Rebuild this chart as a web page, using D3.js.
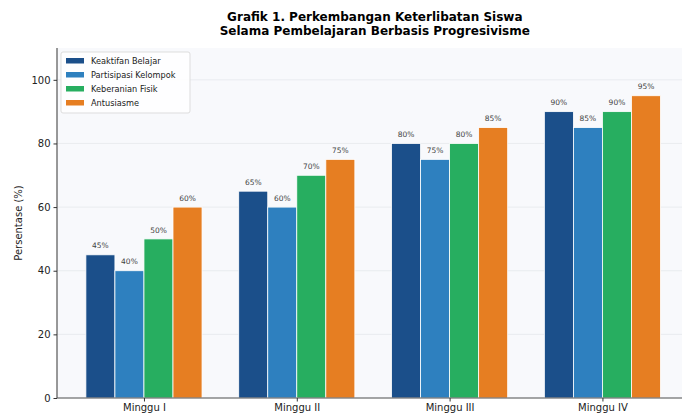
<!DOCTYPE html>
<html lang="en">
<head>
<meta charset="UTF-8">
<title>Grafik 1</title>
<script src="https://d3js.org/d3.v7.min.js"></script>
<style>
  body { margin: 0; background: #fff; }
  text { font-family: "DejaVu Sans", sans-serif; }
</style>
</head>
<body>
<script>
const weeks = ["Minggu I", "Minggu II", "Minggu III", "Minggu IV"];
const seriesNames = ["Keaktifan Belajar", "Partisipasi Kelompok", "Keberanian Fisik", "Antusiasme"];
const keaktifan = [45, 65, 80, 90];
const partisipasi = [40, 60, 75, 85];
const keberanian = [50, 70, 80, 90];
const antusiasme = [60, 75, 85, 95];
const yTicks = [0, 20, 40, 60, 80, 100];
const colors = ["#1b4f8a", "#2e80bf", "#27ae60", "#e67e22"];

const allSeries = [keaktifan, partisipasi, keberanian, antusiasme];

const width = 682, height = 415;
const margin = {left: 57, top: 48, right: -10.6, bottom: 17};
const svg = d3.select("body").append("svg").attr("width", width).attr("height", height);

// index scale: categories at 0..3, limits like matplotlib auto margins
const x = d3.scaleLinear().domain([-0.569, 3.59]).range([margin.left, width - margin.right]);
const y = d3.scaleLinear().domain([0, 110]).range([height - margin.bottom, margin.top]);
const bw = 0.19;

svg.append("rect")
  .attr("x", margin.left).attr("y", margin.top)
  .attr("width", width - margin.right - margin.left)
  .attr("height", y(0) - margin.top)
  .attr("fill", "#f8f9fc");

// grid
svg.append("g").selectAll("line").data(yTicks).enter().append("line")
  .attr("x1", margin.left).attr("x2", width)
  .attr("y1", d => y(d)).attr("y2", d => y(d))
  .attr("stroke", "#e6e8ec").attr("stroke-width", 0.8);

const g = svg.append("g");
allSeries.forEach((vals, s) => {
  const off = (s - 1.5) * bw;
  g.selectAll(".b" + s).data(vals).enter().append("rect")
    .attr("x", (d, i) => x(i + off - bw / 2))
    .attr("width", x(bw) - x(0))
    .attr("y", d => y(d))
    .attr("height", d => y(0) - y(d))
    .attr("fill", colors[s])
    .attr("stroke", "#fff").attr("stroke-width", 0.8);
  g.selectAll(".l" + s).data(vals).enter().append("text")
    .attr("x", (d, i) => x(i + off))
    .attr("y", d => y(d + 2) )
    .attr("text-anchor", "middle")
    .attr("font-size", 7.5).attr("fill", "#444")
    .text(d => d + "%");
});

// axes
const yAxis = d3.axisLeft(y).tickValues(yTicks).tickSize(3.5).tickPadding(3);
const ya = svg.append("g").attr("transform", `translate(${margin.left},0)`).call(yAxis);
ya.select(".domain").attr("d", `M0,${y(0)}V${margin.top}`).attr("stroke", "#555").attr("stroke-width", 1.2);
ya.selectAll("text").attr("font-size", 10).attr("fill", "#222");
ya.selectAll("line").attr("stroke", "#333");

const xa = svg.append("g").attr("transform", `translate(0,${y(0)})`)
  .call(d3.axisBottom(x).tickValues([0, 1, 2, 3]).tickFormat(i => weeks[i]).tickSize(3.5).tickPadding(2));
xa.select(".domain").attr("d", `M${margin.left},0H${width}`).attr("stroke", "#555").attr("stroke-width", 1.2);
xa.selectAll("text").attr("font-size", 10).attr("fill", "#222");
xa.selectAll("line").attr("stroke", "#333");

svg.append("text")
  .attr("transform", `translate(22,${(y(0) + margin.top) / 2}) rotate(-90)`)
  .attr("text-anchor", "middle").attr("font-size", 10).attr("fill", "#222")
  .text("Persentase (%)");

const titleX = (margin.left + width - margin.right) / 2;
svg.append("text").attr("x", titleX).attr("y", 21)
  .attr("text-anchor", "middle").attr("font-size", 12).attr("font-weight", "bold")
  .text("Grafik 1. Perkembangan Keterlibatan Siswa");
svg.append("text").attr("x", titleX).attr("y", 35)
  .attr("text-anchor", "middle").attr("font-size", 12).attr("font-weight", "bold")
  .text("Selama Pembelajaran Berbasis Progresivisme");

// legend
const lg = svg.append("g").attr("transform", "translate(61,52)");
lg.append("rect").attr("width", 129).attr("height", 61).attr("rx", 2)
  .attr("fill", "#fff").attr("fill-opacity", 0.85).attr("stroke", "#ddd");
seriesNames.forEach((n, i) => {
  lg.append("rect").attr("x", 5).attr("y", 6 + i * 14).attr("width", 18).attr("height", 5.5).attr("fill", colors[i]);
  lg.append("text").attr("x", 30).attr("y", 12 + i * 14).attr("font-size", 8.2).attr("fill", "#222").text(n);
});
</script>
</body>
</html>
